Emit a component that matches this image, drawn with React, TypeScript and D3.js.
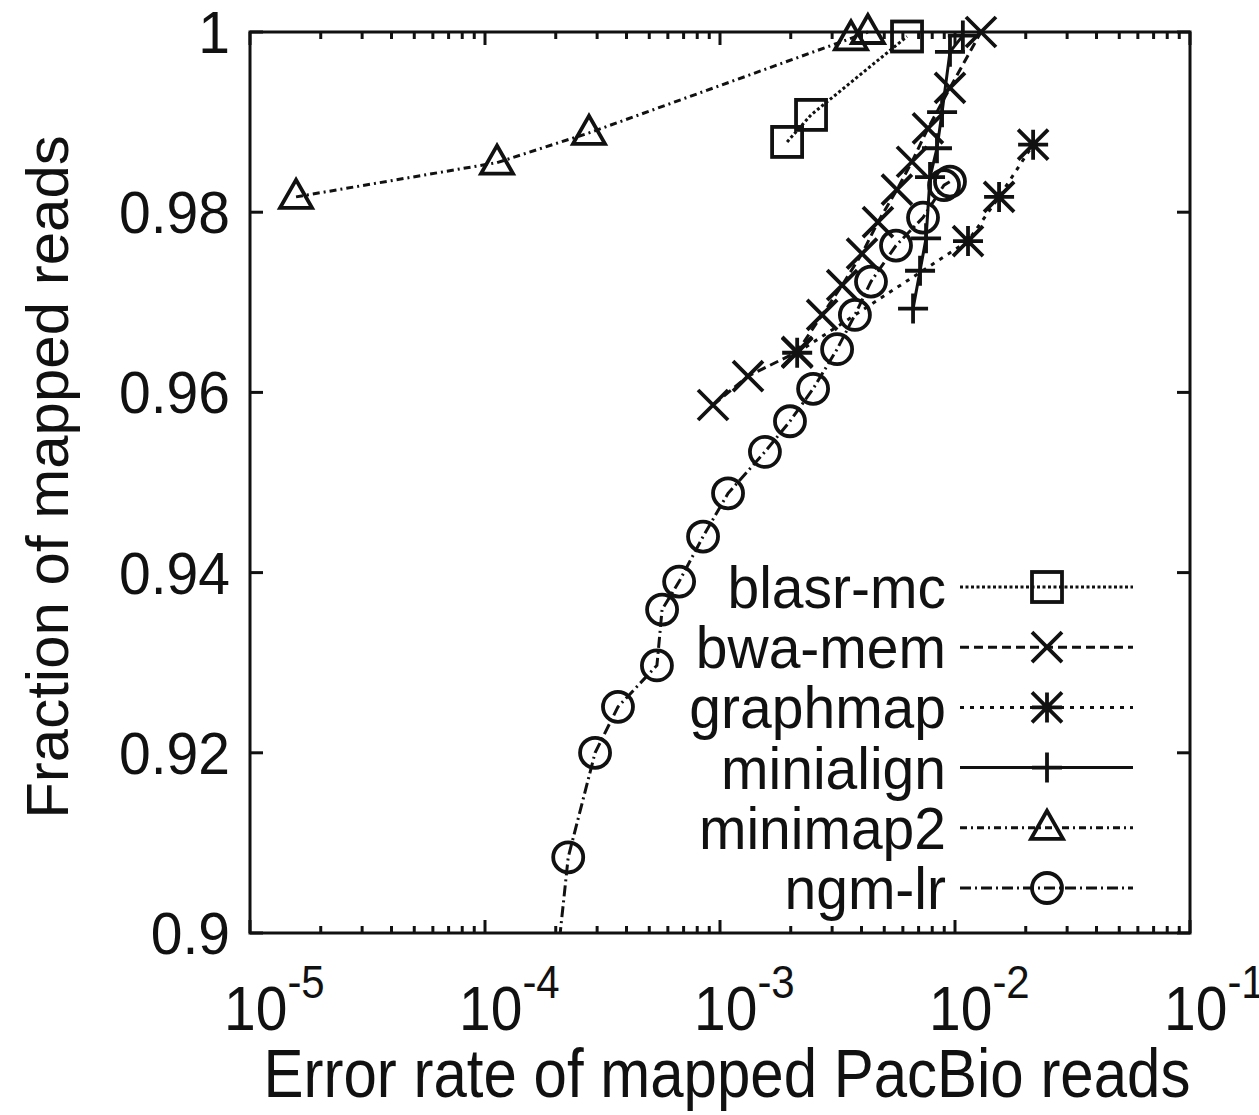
import React from 'react';
import * as d3 from 'd3';

// ---- data ----
const seriesNames = ['blasr-mc', 'bwa-mem', 'graphmap', 'minialign', 'minimap2', 'ngm-lr'];

const blasrX = [1.93e-3, 2.44e-3, 6.25e-3];
const blasrY = [0.9878, 0.9908, 0.9995];

const bwaX = [9.34e-4, 1.316e-3, 2.13e-3, 2.72e-3, 3.31e-3, 4.02e-3, 4.70e-3, 5.66e-3, 6.56e-3, 7.67e-3, 9.52e-3, 1.29e-2];
const bwaY = [0.9586, 0.9618, 0.9645, 0.9686, 0.9719, 0.9754, 0.9789, 0.9825, 0.9856, 0.9893, 0.9938, 1.0];

const graphmapX = [2.13e-3, 1.136e-2, 1.54e-2, 2.15e-2];
const graphmapY = [0.9644, 0.9768, 0.9817, 0.9875];

const minialignX = [6.63e-3, 7.10e-3, 7.53e-3, 7.83e-3, 8.38e-3, 8.81e-3, 9.52e-3, 1.08e-2];
const minialignY = [0.9693, 0.9735, 0.9771, 0.9839, 0.9871, 0.9911, 0.9978, 0.9996];

const minimap2X = [1.57e-5, 1.125e-4, 2.77e-4, 3.61e-3, 4.26e-3];
const minimap2Y = [0.9817, 0.9855, 0.9888, 0.9993, 1.0];

const ngmX = [1.99e-4, 2.26e-4, 2.94e-4, 3.68e-4, 5.39e-4, 5.67e-4, 6.70e-4, 8.47e-4, 1.082e-3, 1.553e-3, 1.985e-3, 2.49e-3, 3.15e-3, 3.75e-3, 4.39e-3, 5.61e-3, 7.31e-3, 8.98e-3, 9.52e-3];
const ngmY = [0.8948, 0.9084, 0.9200, 0.9251, 0.9297, 0.9359, 0.9390, 0.9440, 0.9488, 0.9534, 0.9568, 0.9604, 0.9648, 0.9686, 0.9723, 0.9763, 0.9794, 0.9830, 0.9834];

const yTickValues = [0.9, 0.92, 0.94, 0.96, 0.98, 1.0];
const yTickLabels = ['0.9', '0.92', '0.94', '0.96', '0.98', '1'];
const xTickValues = [1e-5, 1e-4, 1e-3, 1e-2, 1e-1];
const xTickExponents = ['-5', '-4', '-3', '-2', '-1'];

const xTitle = 'Error rate of mapped PacBio reads';
const yTitle = 'Fraction of mapped reads';

// ---- styling ----
const W = 1259, H = 1115;
const L = 250, R = 1190, T = 32, B = 933;
const FONT = '"Liberation Sans", Arial, Helvetica, sans-serif';
const dashes = ['3,2.5', '9,5', '4,6', 'none', '7,4,2,4', '11,4,2,4'];
const markers = ['square', 'x', 'star', 'plus', 'triangle', 'circle'];

const Marker = ({ type, cx, cy }: { type: string; cx: number; cy: number }) => {
  const s = 15;
  const st = { stroke: '#111', strokeWidth: 3.8, fill: 'none' } as any;
  if (type === 'square') return <rect x={cx - s} y={cy - s} width={2 * s} height={2 * s} {...st} />;
  if (type === 'circle') return <circle cx={cx} cy={cy} r={s} {...st} />;
  if (type === 'triangle')
    return <path d={`M${cx},${cy - 17}L${cx - 16},${cy + 11}L${cx + 16},${cy + 11}Z`} {...st} strokeLinejoin="miter" />;
  const xs = `M${cx - s},${cy - s}L${cx + s},${cy + s}M${cx - s},${cy + s}L${cx + s},${cy - s}`;
  const ps = `M${cx - s},${cy}L${cx + s},${cy}M${cx},${cy - s}L${cx},${cy + s}`;
  if (type === 'x') return <path d={xs} {...st} />;
  if (type === 'plus') return <path d={ps} {...st} />;
  return <path d={xs + ps} {...st} />;
};

export default function App() {
  const x = d3.scaleLog().domain([1e-5, 1e-1]).range([L, R]);
  const y = d3.scaleLinear().domain([0.9, 1.0]).range([B, T]);
  const line = d3.line<[number, number]>().x((d) => x(d[0])).y((d) => y(d[1]));

  const series = [
    [blasrX, blasrY],
    [bwaX, bwaY],
    [graphmapX, graphmapY],
    [minialignX, minialignY],
    [minimap2X, minimap2Y],
    [ngmX, ngmY],
  ].map(([xs, ys]) => xs.map((v, i) => [v, ys[i]] as [number, number]));

  const allTicks = x.ticks();
  const minorTicks = allTicks.filter((t) => Math.abs(Math.log10(t) - Math.round(Math.log10(t))) > 1e-6);

  const legendY0 = 587, legendDY = 60.2;

  return (
    <svg width={W} height={H} style={{ position: 'absolute', left: 0, top: 0, background: '#fff' }} fontFamily={FONT}>
      <defs>
        <clipPath id="plotclip">
          <rect x={L} y={T - 20} width={R - L} height={B - T + 20} />
        </clipPath>
      </defs>
      <rect x={0} y={0} width={W} height={H} fill="#fff" />

      {/* ticks */}
      <g stroke="#111" strokeWidth={3}>
        {yTickValues.map((v, i) => (
          <g key={'yt' + i}>
            <line x1={L} x2={L + 13} y1={y(v)} y2={y(v)} />
            <line x1={R} x2={R - 13} y1={y(v)} y2={y(v)} />
          </g>
        ))}
        {xTickValues.map((v, i) => (
          <g key={'xt' + i}>
            <line x1={x(v)} x2={x(v)} y1={B} y2={B - 13} />
            <line x1={x(v)} x2={x(v)} y1={T} y2={T + 13} />
          </g>
        ))}
        {minorTicks.map((v, i) => (
          <g key={'xm' + i}>
            <line x1={x(v)} x2={x(v)} y1={B} y2={B - 7} />
            <line x1={x(v)} x2={x(v)} y1={T} y2={T + 7} />
          </g>
        ))}
      </g>

      {/* series */}
      <g clipPath="url(#plotclip)">
        {series.map((pts, si) => (
          <path key={'l' + si} d={line(pts) || ''} fill="none" stroke="#111" strokeWidth={3}
            strokeDasharray={dashes[si]} />
        ))}
      </g>
      {series.map((pts, si) => (
        <g key={'m' + si}>
          {pts.filter((p) => p[1] >= 0.9).map((p, i) => (
            <Marker key={i} type={markers[si]} cx={x(p[0])} cy={y(p[1])} />
          ))}
        </g>
      ))}

      {/* frame */}
      <rect x={L} y={T} width={R - L} height={B - T} fill="none" stroke="#111" strokeWidth={3} />

      {/* y tick labels */}
      {yTickValues.map((v, i) => (
        <text key={'yl' + i} transform={`translate(230,${y(v) + 21}) scale(1,1.05)`} textAnchor="end" fontSize={57} fill="#111">
          {yTickLabels[i]}
        </text>
      ))}

      {/* x tick labels */}
      {xTickValues.map((v, i) => (
        <text key={'xl' + i} transform={`translate(${x(v) - 26},1030) scale(1,1.1)`} fontSize={57} fill="#111">
          10
          <tspan dy={-29} fontSize={42}>{xTickExponents[i]}</tspan>
        </text>
      ))}

      {/* axis titles */}
      <text transform="translate(727,1097) scale(1,1.15)" textAnchor="middle" fontSize={60} fill="#111">{xTitle}</text>
      <text transform={`translate(68,477) rotate(-90)`} textAnchor="middle" fontSize={60} fill="#111">{yTitle}</text>

      {/* legend */}
      {seriesNames.map((name, i) => {
        const ly = legendY0 + i * legendDY;
        return (
          <g key={'lg' + i}>
            <text transform={`translate(946,${ly + 21}) scale(1,1.05)`} textAnchor="end" fontSize={57} fill="#111">{name}</text>
            <line x1={960} x2={1133} y1={ly} y2={ly} stroke="#111" strokeWidth={3} strokeDasharray={dashes[i]} />
            <Marker type={markers[i]} cx={1047} cy={ly} />
          </g>
        );
      })}
    </svg>
  );
}
